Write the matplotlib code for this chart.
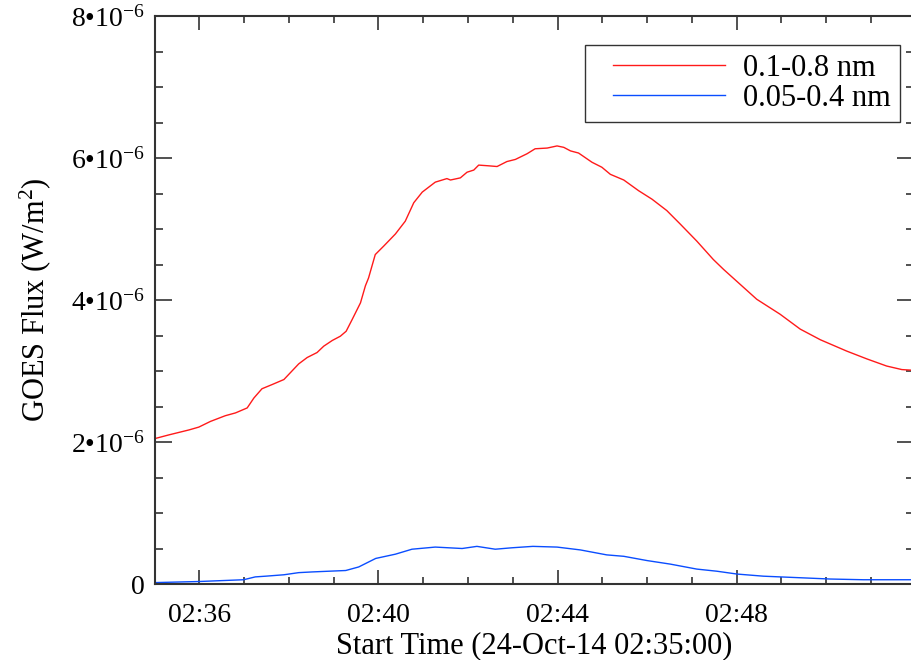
import matplotlib
matplotlib.use("Agg")
import matplotlib.pyplot as plt
from matplotlib.ticker import FixedLocator, MultipleLocator

plt.rcParams['font.family'] = ['Liberation Serif', 'DejaVu Serif']
plt.rcParams['mathtext.fontset'] = 'custom'
plt.rcParams['mathtext.rm'] = 'Liberation Serif'
plt.rcParams['mathtext.it'] = 'Liberation Serif:italic'

# minutes after 02:35:00, flux in units of 1e-6 W/m^2
t_long = [0.02, 0.32, 0.77, 0.99, 1.25, 1.58, 1.81, 2.07, 2.22, 2.40, 2.63, 2.89,
          3.04, 3.22, 3.41, 3.63, 3.78, 3.97, 4.15, 4.28, 4.41, 4.60, 4.71, 4.78,
          4.93, 5.12, 5.38, 5.60, 5.79, 5.98, 6.27, 6.53, 6.61, 6.83, 6.98, 7.13,
          7.24, 7.46, 7.65, 7.87, 8.06, 8.32, 8.50, 8.77, 8.99, 9.14, 9.29, 9.47,
          9.77, 9.99, 10.18, 10.48, 10.81, 11.11, 11.44, 11.74, 12.11, 12.48, 12.71,
          13.08, 13.45, 13.97, 14.42, 14.87, 15.46, 15.91, 16.35, 16.69, 16.95]
flux_long = [2.05, 2.10, 2.17, 2.21, 2.29, 2.37, 2.41, 2.48, 2.62, 2.75, 2.81, 2.88,
             2.98, 3.10, 3.19, 3.26, 3.35, 3.43, 3.49, 3.56, 3.72, 3.96, 4.20, 4.31,
             4.64, 4.76, 4.93, 5.11, 5.37, 5.52, 5.66, 5.71, 5.69, 5.72, 5.80, 5.83,
             5.90, 5.89, 5.88, 5.95, 5.98, 6.06, 6.13, 6.14, 6.17, 6.15, 6.10, 6.07,
             5.94, 5.87, 5.77, 5.69, 5.54, 5.42, 5.26, 5.07, 4.83, 4.57, 4.43,
             4.22, 4.01, 3.80, 3.59, 3.44, 3.28, 3.17, 3.07, 3.02, 3.01]

t_short = [0.02, 0.99, 1.99, 2.25, 2.48, 2.89, 3.22, 3.52, 3.89, 4.27, 4.56, 4.94,
           5.38, 5.75, 6.27, 6.57, 6.87, 7.20, 7.61, 7.98, 8.45, 8.99, 9.51, 10.10,
           10.48, 11.0, 11.52, 12.11, 12.56, 13.01, 13.60, 14.35, 15.09, 15.83, 16.95]
flux_short = [0.02, 0.035, 0.06, 0.10, 0.11, 0.13, 0.16, 0.17, 0.18, 0.19, 0.24, 0.36,
              0.42, 0.49, 0.52, 0.51, 0.50, 0.53, 0.49, 0.51, 0.53, 0.52, 0.48, 0.41,
              0.39, 0.33, 0.28, 0.21, 0.18, 0.14, 0.11, 0.09, 0.07, 0.06, 0.06]

x_ticks = [1, 5, 9, 13]
x_ticklabels = ["02:36", "02:40", "02:44", "02:48"]
y_ticks = [0, 2e-6, 4e-6, 6e-6, 8e-6]
y_ticklabels = ["0", "2•10$^{-6}$", "4•10$^{-6}$", "6•10$^{-6}$", "8•10$^{-6}$"]

fig = plt.figure(figsize=(9.11, 6.6), dpi=100)
ax = fig.add_axes([154.5 / 911, 76 / 660, 759 / 911, 568 / 660])

ax.plot(t_long, [v * 1e-6 for v in flux_long], color='#ff1a1a', lw=1.0, label="0.1-0.8 nm")
ax.plot(t_short, [v * 1e-6 for v in flux_short], color='#0a4dff', lw=1.0, label="0.05-0.4 nm")

ax.set_xlim(0, 16.95)
ax.set_ylim(0, 8e-6)

ax.xaxis.set_major_locator(FixedLocator(x_ticks))
ax.set_xticklabels(x_ticklabels)
ax.xaxis.set_minor_locator(MultipleLocator(1))
ax.yaxis.set_major_locator(FixedLocator(y_ticks))
ax.set_yticklabels(y_ticklabels)
ax.yaxis.set_minor_locator(MultipleLocator(0.5e-6))

ax.tick_params(which='both', direction='in', top=True, right=True,
               labelsize=20, color='#333333', width=1.2)
ax.tick_params(axis='x', which='major', length=10, pad=14)
ax.tick_params(axis='x', which='minor', length=5)
ax.tick_params(axis='y', which='major', length=12, pad=7)
ax.tick_params(axis='y', which='minor', length=6)
for s in ax.spines.values():
    s.set_color('#333333')
    s.set_linewidth(1.5)

ax.set_xlabel("Start Time (24-Oct-14 02:35:00)", fontsize=22, labelpad=2)
ax.set_ylabel("GOES Flux (W/m$^2$)", fontsize=22, labelpad=13)

leg = ax.legend(loc='upper right', bbox_to_anchor=(900 / 911, 1 - 45 / 660),
                bbox_transform=fig.transFigure, fontsize=22, handlelength=4.28,
                labelspacing=0.02, fancybox=False, borderaxespad=0,
                borderpad=0.3, handletextpad=0.6)
leg.get_frame().set_edgecolor('black')
leg.get_frame().set_linewidth(1.0)
# leave a gap on the left of the legend lines, as in the original
for ln in leg.get_lines():
    xd = ln.get_xdata()
    yd = ln.get_ydata()
    x0, x1 = xd[0], xd[-1]
    ln.set_data([x0 + (x1 - x0) * 19 / 131, x1], [yd[0], yd[-1]])

fig.savefig("out.png", dpi=100)
